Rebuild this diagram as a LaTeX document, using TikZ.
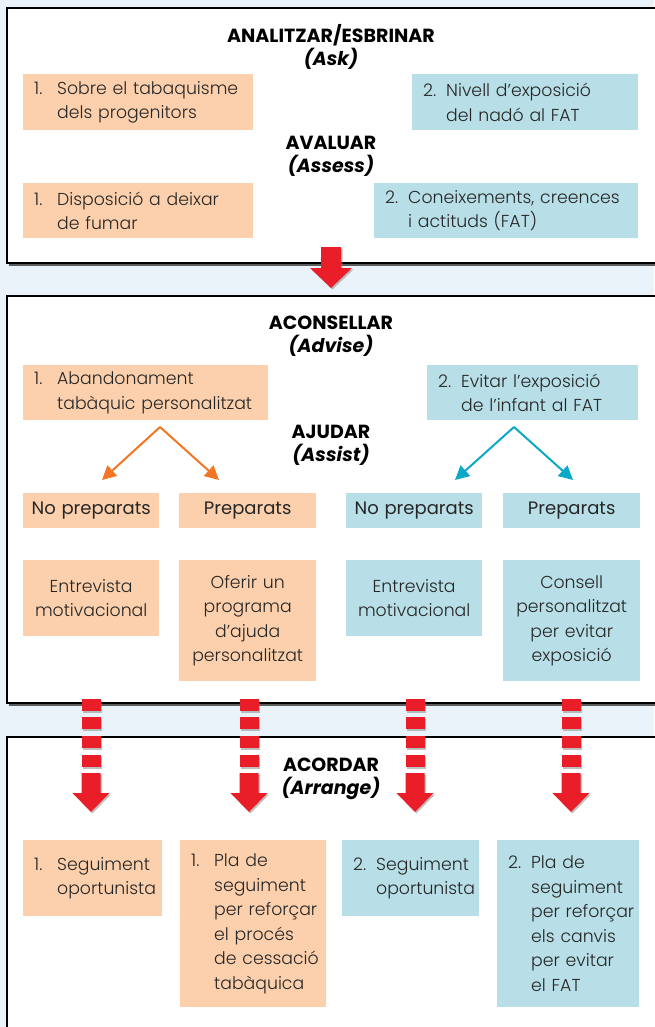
\documentclass[tikz,border=0pt]{standalone}
\usepackage{fontspec}
\setmainfont{Poppins}[UprightFont=* Light, ItalicFont=* Light Italic, BoldFont=* Bold, BoldItalicFont=* Bold Italic]
\newfontfamily\bookfont{Poppins}
\usetikzlibrary{arrows.meta, positioning, shadows}
\definecolor{peach}{RGB}{252,208,172}
\definecolor{pale}{RGB}{184,223,231}
\definecolor{orangeln}{RGB}{241,119,38}
\definecolor{blueln}{RGB}{12,168,199}
\definecolor{redarrow}{RGB}{234,30,40}
\definecolor{backdrop}{RGB}{234,243,250}
\tikzset{
  stage/.style = {draw=black, line width=1.3pt, fill=white,
    drop shadow={shadow xshift=1.5pt, shadow yshift=-2.5pt, fill=black!70, opacity=0.9}},
  heading/.style = {align=center, font=\bfseries\fontsize{19}{23}\selectfont, text=black},
  cell/.style = {fill=#1, anchor=north west, inner xsep=0pt, inner ysep=0pt, align=left,
    font=\fontsize{17.3}{24.5}\selectfont\frenchspacing, text=black!85},
  ccell/.style = {cell=#1, align=center},
  tip/.style = {line width=2pt, draw=#1, -{Triangle[length=14pt, width=14pt, fill=#1]}},
  redfill/.style = {fill=redarrow, drop shadow={shadow xshift=1.5pt, shadow yshift=-1.5pt, opacity=0.5}}
}
% numbered first line, and the hanging indent under the number
\newcommand{\num}[1]{\hspace*{11pt}\makebox[23pt][l]{#1}}
\newcommand{\ind}{\hspace*{34pt}}
\newcommand{\book}{\bookfont\fontsize{18}{24}\selectfont}
\NewDocumentCommand{\bigdown}{m m m m m}{%
  \fill[redfill] (#1) ++(-#4,0) -- ++(0,#2) -- ++({#4-#5},0) -- ++(#5,#3)
    -- ++(#5,-#3) -- ++({#4-#5},0) -- ++(0,-#2) -- cycle;
}
\begin{document}
\begin{tikzpicture}[x=1pt, y=-1pt]
\useasboundingbox (0,0) rectangle (654,1027);
\fill[backdrop] (0,0) rectangle (654,1027);
% the three stages
\path[stage] (7,8) rectangle (680,263);
\path[stage] (7,296) rectangle (680,703);
\path[stage] (7,737) rectangle (680,1045);

% ask / assess
\node[heading] (ask) at (331,47) {ANALITZAR/ESBRINAR\\\textit{(Ask)}};
\node[cell=peach, text width=230pt, minimum height=56pt] (tA1) at (23,74)
  {\num{1.}Sobre el tabaquisme\\\ind dels progenitors};
\node[cell=pale, text width=226pt, minimum height=56pt] (tA2) at (412,74)
  {\num{2.}Nivell d’exposició\\\ind del nadó al FAT};
\node[heading] (assess) at (331,156) {AVALUAR\\\textit{(Assess)}};
\node[cell=peach, text width=230pt, minimum height=55pt] (tB1) at (23,183)
  {\num{1.}Disposició a deixar\\\ind de fumar};
\node[cell=pale, text width=264pt, minimum height=55pt] (tB2) at (374,183)
  {\num{2.}Coneixements, creences\\\ind i actituds (FAT)};

% advise / assist
\node[heading] (advise) at (331,336) {ACONSELLAR\\\textit{(Advise)}};
\node[cell=peach, text width=245pt, minimum height=55pt] (mA1) at (23,365)
  {\num{1.}Abandonament\\\ind tabàquic personalitzat};
\node[cell=pale, text width=211pt, minimum height=55pt] (mA2) at (427,365)
  {\num{2.}Evitar l’exposició\\\ind de l’infant al FAT};
\node[heading] (assist) at (331,445) {AJUDAR\\\textit{(Assist)}};

\node[ccell=peach, text width=136pt, minimum height=35pt] (onp) at (23,493) {\book No preparats};
\node[ccell=peach, text width=137pt, minimum height=35pt] (opr) at (179,493) {\book Preparats};
\node[ccell=pale, text width=136pt, minimum height=35pt] (bnp) at (346,493) {\book No preparats};
\node[ccell=pale, text width=137pt, minimum height=35pt] (bpr) at (503,493) {\book Preparats};

\node[ccell=peach, text width=136pt, minimum height=76pt] (oent) at (23,560) {Entrevista\\motivacional};
\node[ccell=peach, text width=137pt, minimum height=121pt] (ooff) at (179,560)
  {Oferir un\\programa\\d’ajuda\\personalitzat};
\node[ccell=pale, text width=136pt, minimum height=76pt] (bent) at (346,560) {Entrevista\\motivacional};
\node[ccell=pale, text width=137pt, minimum height=121pt] (bcon) at (503,560)
  {Consell\\personalitzat\\per evitar\\exposició};

\coordinate (osplit) at (160,427);
\coordinate (onpT) at (102,480);
\coordinate (oprT) at (219,480);
\coordinate (bsplit) at (514,427);
\coordinate (bnpT) at (455,480);
\coordinate (bprT) at (573,480);
\draw[tip=orangeln] (osplit) -- (onpT);
\draw[tip=orangeln] (osplit) -- (oprT);
\draw[tip=blueln] (bsplit) -- (bnpT);
\draw[tip=blueln] (bsplit) -- (bprT);

% arrange
\node[heading] (arrange) at (331,779) {ACORDAR\\\textit{(Arrange)}};
\node[cell=peach, text width=139pt, minimum height=76pt] (s1) at (23,840)
  {\num{1.}Seguiment\\\ind oportunista};
\node[cell=peach, text width=146pt, minimum height=167pt] (s2) at (180,840)
  {\num{1.}Pla de\\\ind seguiment\\\ind per reforçar\\\ind el procés\\\ind de cessació\\\ind tabàquica};
\node[cell=pale, text width=137pt, minimum height=76pt] (s3) at (342,840)
  {\num{2.}Seguiment\\\ind oportunista};
\node[cell=pale, text width=142pt, minimum height=167pt] (s4) at (497,840)
  {\num{2.}Pla de\\\ind seguiment\\\ind per reforçar\\\ind els canvis\\\ind per evitar\\\ind el FAT};

% red arrows between stages
\coordinate (down1) at (331,247);
\bigdown{down1}{21}{20}{10}{21}
\foreach \xx in {91,249,415,571}{
  \foreach \yy in {699,717,736,755}
    \fill[redfill] (\xx-9.5,\yy) rectangle ++(19,12);
  \coordinate (dn) at (\xx,773);
  \bigdown{dn}{20}{19}{9.5}{18.5}
}
\end{tikzpicture}
\end{document}
